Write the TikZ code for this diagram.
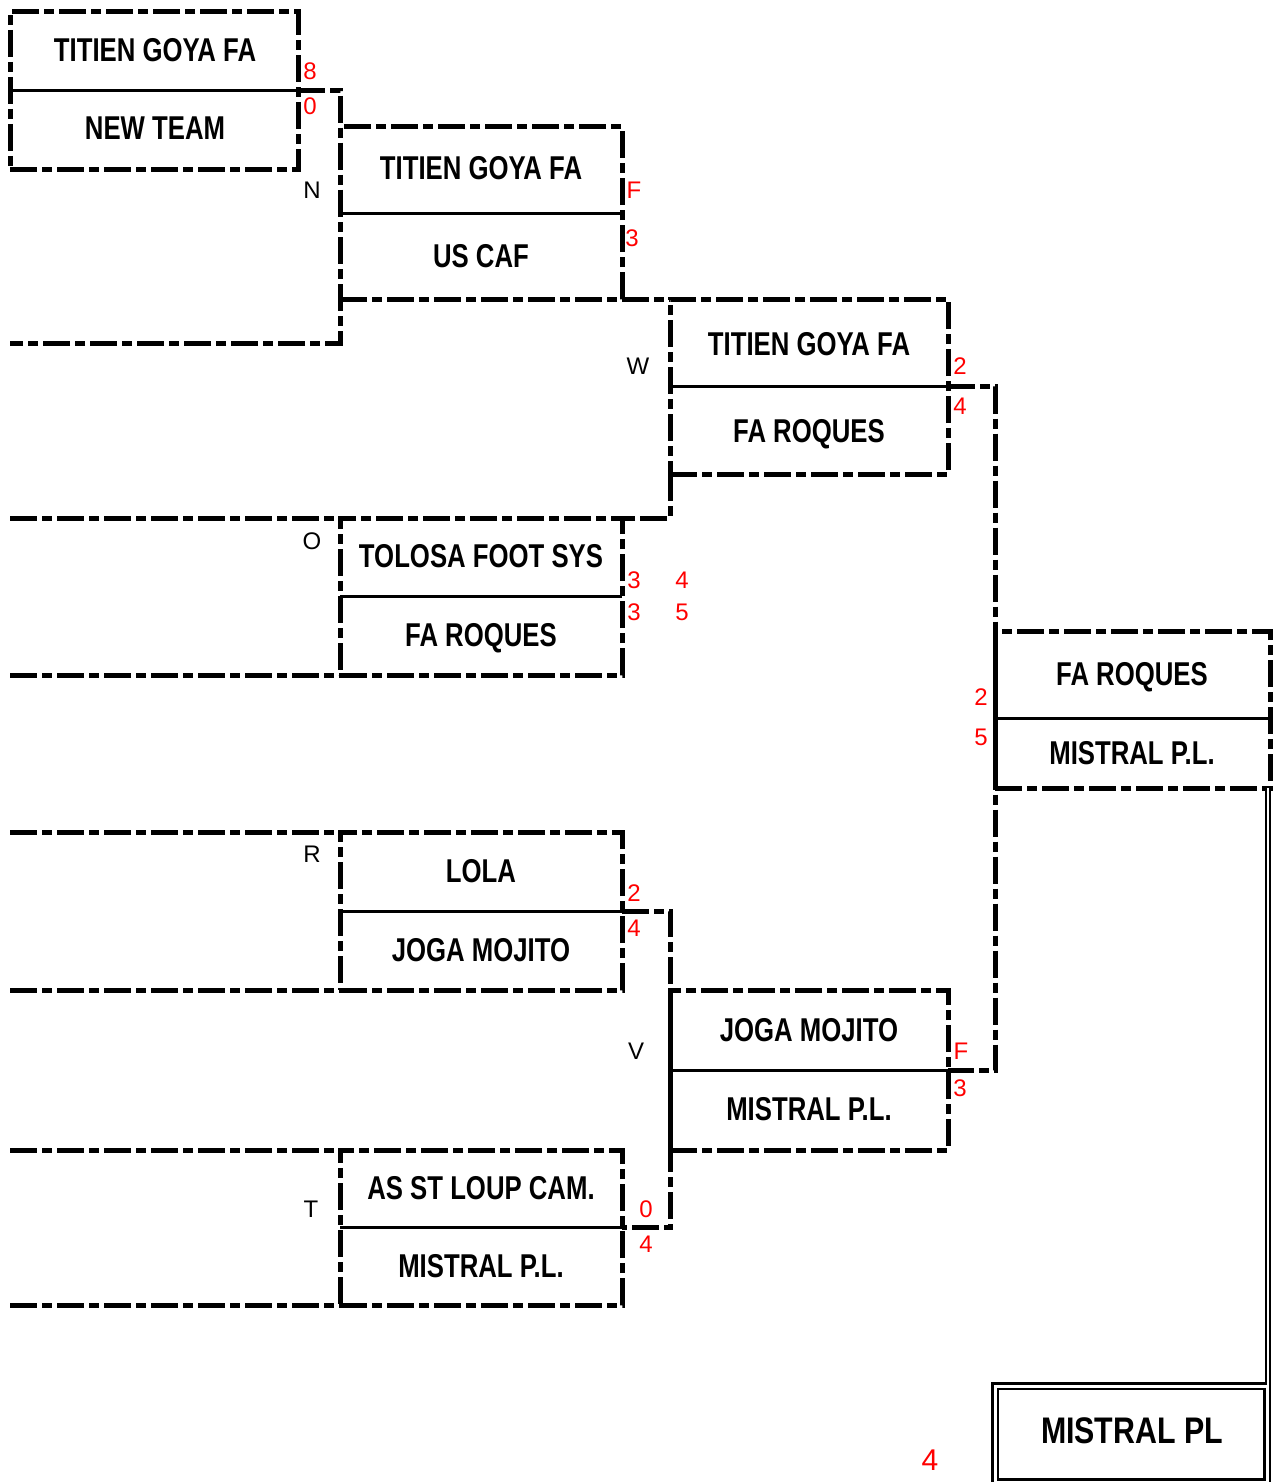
\documentclass[tikz,border=0pt]{standalone}
\usepackage{fontspec}
\setmainfont{Liberation Sans}
\newfontfamily\teamfont{Liberation Sans}[FakeStretch=0.78]
\newfontfamily\finalfont{Liberation Sans}[FakeStretch=0.82]
\usetikzlibrary{positioning,calc}
\tikzset{
	box/.style={rectangle,draw,line width=5pt,dash pattern=on 27pt off 5pt on 10pt off 5pt,inner sep=0,outer sep=0,minimum width=#1},
	box/.default=282pt,
	bracket/.style={line width=5pt,dash pattern=on 27pt off 5pt on 10pt off 5pt},
	midline/.style={line width=3pt},
	dbl/.style={draw,double,line width=1.8pt,double distance=2.5pt},
	team/.style={anchor=base,inner sep=0,font=\teamfont\bfseries\fontsize{33}{36}\selectfont},
	letter/.style={anchor=base,inner sep=0,font=\fontsize{24}{26}\selectfont},
	score/.style={anchor=base,inner sep=0,text=red,font=\fontsize{24}{26}\selectfont}
}
\begin{document}
\begin{tikzpicture}[x=1pt,y=-1pt]
		\useasboundingbox (0,0) rectangle (1276,1482);
		
		% boxes
		\node [box=288pt,minimum height=158pt] (r1a) at (154,91) {};
		\node [box,minimum height=172pt] (r2a) at (481,213) {};
		\node [box,minimum height=157pt] (r2b) at (481,596.5) {};
		\node [box,minimum height=158pt] (r2c) at (481,911) {};
		\node [box,minimum height=155pt] (r2d) at (481,1227.5) {};
		\node [box=278pt,minimum height=175pt] (r3a) at (809,386.5) {};
		\node [box=278pt,minimum height=160pt] (r3b) at (809,1070) {};
		\node [box=275pt,minimum height=157pt] (r4) at (1132.5,709.5) {};
		\node [dbl,line width=2.3pt,double distance=3pt,inner sep=0,minimum width=272pt,minimum height=96pt] (final) at (1131,1434) {};
		
		\draw [midline] (r1a.west) -- (r1a.east);
		\draw [midline] (r2a.west) -- (r2a.east);
		\draw [midline] (r2b.west) -- (r2b.east);
		\draw [midline] (r2c.west) -- (r2c.east);
		\draw [midline] (r2d.west) -- (r2d.east);
		\draw [midline] (r3a.west) -- (r3a.east);
		\draw [midline] (r3b.west) -- (r3b.east);
		\draw [midline] ([yshift=-8.5pt]r4.west) -- ([yshift=-8.5pt]r4.east);
		
		% free slots
		\coordinate (slotN) at (10,343);
		\coordinate (slotO1) at (10,518);
		\coordinate (slotO2) at (10,675);
		\coordinate (slotR1) at (10,832);
		\coordinate (slotR2) at (10,990);
		\coordinate (slotT1) at (10,1150);
		\coordinate (slotT2) at (10,1305);
		
		% connectors
		\draw [bracket] (r1a.east) -- (r1a.east -| r2a.west) -- (r2a.west |- slotN) -- (slotN);
		\draw [bracket] (r2a.south east) -- (r3a.north west);
		\draw [bracket] (r3a.south west) -- (r3a.south west |- r2b.north) -- (r2b.north east);
		\draw [bracket] (slotO1) -- (r2b.north west);
		\draw [bracket] (slotO2) -- (r2b.south west);
		\draw [bracket] (r3a.east) -- (r3a.east -| r4.west) -- (r4.west |- r3b.east) -- (r3b.east);
		\draw [bracket] (slotR1) -- (r2c.north west);
		\draw [bracket] (slotR2) -- (r2c.south west);
		\draw [bracket] (r2c.east) -- (r2c.east -| r3b.west) -- (r3b.west |- r2d.east) -- (r2d.east);
		\draw [bracket] (slotT1) -- (r2d.north west);
		\draw [bracket] (slotT2) -- (r2d.south west);
		\draw [dbl] (final.north east |- r4.south) -- (final.north east);
		
		% teams
		\node [team] (t1a) at (155,62) {TITIEN GOYA FA};
		\node [team] (t1b) at (155,140) {NEW TEAM};
		\node [team] (t2a) at (481,180) {TITIEN GOYA FA};
		\node [team] (t2b) at (481,267) {US CAF};
		\node [team] (t3a) at (481,567) {TOLOSA FOOT SYS};
		\node [team] (t3b) at (481,646) {FA ROQUES};
		\node [team] (t4a) at (809,355) {TITIEN GOYA FA};
		\node [team] (t4b) at (809,442) {FA ROQUES};
		\node [team] (t5a) at (481,882) {LOLA};
		\node [team] (t5b) at (481,961) {JOGA MOJITO};
		\node [team] (t6a) at (809,1041) {JOGA MOJITO};
		\node [team] (t6b) at (809,1120) {MISTRAL P.L.};
		\node [team] (t7a) at (481,1199) {AS ST LOUP CAM.};
		\node [team] (t7b) at (481,1277) {MISTRAL P.L.};
		\node [team] (t8a) at (1132,685) {FA ROQUES};
		\node [team] (t8b) at (1132,764) {MISTRAL P.L.};
		\node [team,font=\finalfont\bfseries\fontsize{37}{40}\selectfont] (champ) at (1132,1443) {MISTRAL PL};
		
		% match letters
		\node [letter] (mN) at (312,199) {N};
		\node [letter] (mO) at (312,549) {O};
		\node [letter] (mW) at (638,374) {W};
		\node [letter] (mR) at (312,862) {R};
		\node [letter] (mV) at (636,1059) {V};
		\node [letter] (mT) at (311,1217) {T};
		
		% scores
		\node [score] (s1a) at (310,80) {8};
		\node [score] (s1b) at (310,115) {0};
		\node [score] (s2a) at (634,199) {F};
		\node [score] (s2b) at (632,246) {3};
		\node [score] (s3a) at (634,588) {3};
		\node [score] (s3b) at (634,620) {3};
		\node [score] (s3c) at (682,588) {4};
		\node [score] (s3d) at (682,620) {5};
		\node [score] (s4a) at (960,374) {2};
		\node [score] (s4b) at (960,414) {4};
		\node [score] (s8a) at (981,705) {2};
		\node [score] (s8b) at (981,745) {5};
		\node [score] (s5a) at (634,901) {2};
		\node [score] (s5b) at (634,936) {4};
		\node [score] (s6a) at (961,1059) {F};
		\node [score] (s6b) at (960,1096) {3};
		\node [score] (s7a) at (646,1217) {0};
		\node [score] (s7b) at (646,1252) {4};
		\node [score,font=\fontsize{30}{32}\selectfont] (sfin) at (930,1470) {4};
		
	\end{tikzpicture}
\end{document}
